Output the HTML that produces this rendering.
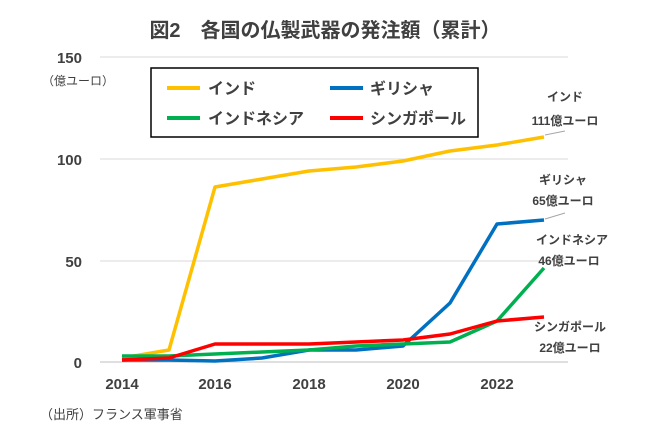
<!DOCTYPE html><html><head><meta charset="utf-8"><style>body{margin:0;background:#fff}svg{display:block}text{font-family:"Liberation Sans","Noto Sans CJK JP",sans-serif;fill:#404040}</style></head><body>
<svg width="650" height="433" viewBox="0 0 650 433">
<text x="325" y="37" text-anchor="middle" font-size="20" font-weight="bold" fill="#404040">図2　各国の仏製武器の発注額（累計）</text>
<g stroke="#d9d9d9" stroke-width="1">
<line x1="100" y1="159" x2="568" y2="159"/><line x1="100" y1="261" x2="568" y2="261"/><line x1="100" y1="57" x2="568" y2="57"/></g>
<line x1="100" y1="362" x2="568" y2="362" stroke="#bfbfbf"/>
<g font-size="15" font-weight="bold" text-anchor="end"><text x="82" y="63">150</text><text x="82" y="165">100</text><text x="82" y="267">50</text><text x="82" y="368">0</text></g>
<text x="42" y="85" font-size="12">（億ユーロ）</text>
<g font-size="15" font-weight="bold" text-anchor="middle"><text x="122" y="389">2014</text><text x="215" y="389">2016</text><text x="309" y="389">2018</text><text x="403" y="389">2020</text><text x="497" y="389">2022</text></g>
<text x="40" y="419" font-size="13">（出所）フランス軍事省</text>
<rect x="151" y="68" width="327" height="69" fill="#fff" stroke="#000" stroke-width="1.5"/>
<g stroke-width="4"><line x1="167" y1="88" x2="200" y2="88" stroke="#ffc000"/><line x1="330" y1="88" x2="363" y2="88" stroke="#0070c0"/><line x1="167" y1="118" x2="200" y2="118" stroke="#00b050"/><line x1="330" y1="118" x2="363" y2="118" stroke="#ff0000"/></g>
<g font-size="16" font-weight="bold"><text x="208" y="94">インド</text><text x="370" y="94">ギリシャ</text><text x="208" y="124">インドネシア</text><text x="370" y="124">シンガポール</text></g>
<g fill="none" stroke-width="3.5" stroke-linejoin="round">
<polyline stroke="#ffc000" points="122,358 169,350 215,187 262,179 309,171 356,167 403,161 450,151 497,145 544,137"/>
<polyline stroke="#0070c0" points="122,360 169,360 215,361 262,358 309,350 356,350 403,346 450,303 497,224 544,220"/>
<polyline stroke="#00b050" points="122,356 169,356 215,354 262,352 309,350 356,346 403,344 450,342 497,321 544,268"/>
<polyline stroke="#ff0000" points="122,360 169,358 215,344 262,344 309,344 356,342 403,340 450,334 497,321 544,317"/>
</g>
<g stroke="#a6a6a6" stroke-width="1"><line x1="545" y1="135" x2="565" y2="131"/><line x1="545" y1="219" x2="565" y2="213"/></g>
<g font-size="12" font-weight="bold" text-anchor="middle"><text x="565" y="101">インド</text><text x="565" y="125">111億ユーロ</text><text x="563" y="184">ギリシャ</text><text x="563" y="205">65億ユーロ</text><text x="572" y="244">インドネシア</text><text x="569" y="265">46億ユーロ</text><text x="570" y="331">シンガポール</text><text x="570" y="352">22億ユーロ</text></g>
</svg></body></html>
